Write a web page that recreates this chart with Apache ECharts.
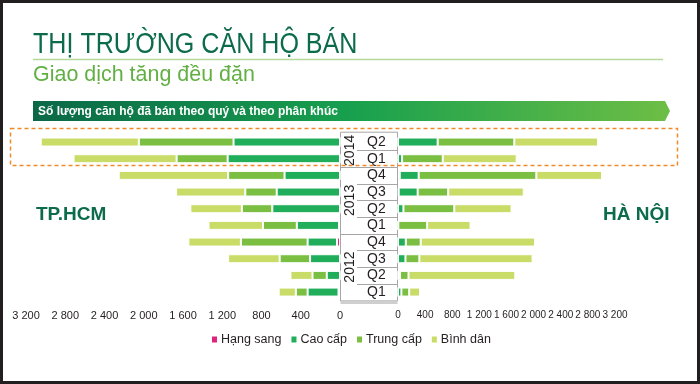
<!DOCTYPE html>
<html>
<head>
<meta charset="utf-8">
<script src="https://cdn.jsdelivr.net/npm/echarts@6/dist/echarts.min.js"></script>
<style>
html,body{margin:0;padding:0;background:#fff;}
#chart{width:700px;height:384px;}
</style>
</head>
<body>
<div id="chart"></div>
<script>
// ---- data (chronological: 2012 Q1 -> 2014 Q2; drawn bottom -> top) ----
var years    = ['2012','2012','2012','2012','2013','2013','2013','2013','2014','2014'];
var quarters = ['Q1','Q2','Q3','Q4','Q1','Q2','Q3','Q4','Q1','Q2'];
var segmentNames = ['Hạng sang','Cao cấp','Trung cấp','Bình dân'];
var tickValues = [0,400,800,1200,1600,2000,2400,2800,3200];

// TP.HCM
var hcmLux  = [15, 0, 0, 30, 10, 0, 0, 0, 0, 0];
var hcmHigh = [315, 135, 305, 300, 430, 690, 645, 565, 1145, 1085];
var hcmMid  = [120, 145, 310, 680, 345, 310, 320, 575, 520, 965];
var hcmAff  = [175, 225, 525, 535, 555, 525, 705, 1115, 1050, 1000];
// Hà Nội
var hnLux  = [0, 0, 0, 0, 0, 0, 10, 25, 0, 0];
var hnHigh = [50, 30, 110, 115, 5, 80, 280, 280, 60, 585];
var hnMid  = [115, 125, 205, 220, 425, 750, 450, 1735, 600, 1130];
var hnAff  = [160, 1575, 1670, 1685, 640, 845, 1115, 970, 1090, 1235];

var titleText = 'THỊ TRƯỜNG CĂN HỘ BÁN';
var subtitleText = 'Giao dịch tăng đều đặn';
var bannerText = 'Số lượng căn hộ đã bán theo quý và theo phân khúc';

var colors = ['#e2237e', '#21ae5b', '#7abf42', '#c9dc68'];
var SANS = '"Liberation Sans",Arial,sans-serif';
var DARKGREEN = '#0c6b4b';

var categories = years.map(function(y,i){ return y + ' ' + quarters[i]; });
function fmt(v){ return String(v).replace(/\B(?=(\d{3})+(?!\d))/g, ' '); }

var chart = echarts.init(document.getElementById('chart'), null, {renderer:'canvas'});

var gridTop = 133.7, gridH = 166.7;
function mkX(idx, inverse, fs){
  return {
    type:'value', gridIndex:idx, min:tickValues[0], max:tickValues[tickValues.length-1],
    interval:tickValues[1]-tickValues[0], inverse:inverse,
    axisLine:{show:false}, axisTick:{show:false}, splitLine:{show:false},
    axisLabel:{fontSize:fs, color:'#231f20', fontFamily:SANS, margin:10, hideOverlap:false,
      showMinLabel:true, showMaxLabel:true, formatter:fmt}
  };
}
function mkSeries(name, data, xi, stack, color){
  return {
    type:'bar', name:name, stack:stack, xAxisIndex:xi, yAxisIndex:xi,
    data:data, barWidth:9, itemStyle:{color:color, borderColor:'#fff', borderWidth:1},
    emphasis:{disabled:true}, animation:false
  };
}
var hcm = [hcmLux, hcmHigh, hcmMid, hcmAff];
var hn = [hnLux, hnHigh, hnMid, hnAff];
var series = [];
segmentNames.forEach(function(n,i){ series.push(mkSeries(n, hcm[i], 0, 'hcm', colors[i])); });
segmentNames.forEach(function(n,i){ series.push(mkSeries(n, hn[i], 1, 'hn', colors[i])); });

var option = {
  backgroundColor:'#ffffff',
  animation:false,
  color:colors,
  legend:{
    data:segmentNames, left:205, top:328, itemWidth:7, itemHeight:8, itemGap:8,
    icon:'rect', selectedMode:false,
    textStyle:{fontFamily:SANS, fontSize:12.5, color:'#231f20', padding:[0,0,0,-2]}
  },
  grid:[
    {left:26, width:314, top:gridTop, height:gridH},
    {left:398, width:217, top:gridTop, height:gridH}
  ],
  xAxis:[mkX(0,true,11), mkX(1,false,10)],
  yAxis:[
    {type:'category', gridIndex:0, data:categories, position:'right',
     axisLine:{show:false}, axisTick:{show:false},
     axisLabel:{interval:0, margin:27, fontSize:14, fontFamily:SANS, color:'#231f20',
       formatter:function(v){ return v.split(' ')[1]; }}},
    {type:'category', gridIndex:1, data:categories,
     axisLine:{show:false}, axisTick:{show:false}, axisLabel:{show:false}}
  ],
  series:series
};
chart.setOption(option);

// ---- decorations (positions derived from the axes where relevant) ----
function yPix(i){ return chart.convertToPixel({yAxisIndex:0}, i); }
var band = Math.abs(yPix(0) - yPix(1));
var boxL = 340.5, boxR = 397.5, boxTop = yPix(categories.length-1) - band/2 - 1.5;
var boxBot = yPix(0) + band/2 + 0.5;
var g = [];
// frame
g.push({type:'rect', shape:{x:0,y:0,width:700,height:384}, style:{fill:'none', stroke:'#231f20', lineWidth:6}, z:100});
// titles
g.push({type:'text', x:33, y:45, scaleX:0.865, style:{text:titleText, fill:DARKGREEN, fontFamily:SANS, fontSize:29, verticalAlign:'middle'}});
g.push({type:'text', x:33, y:75, scaleX:0.975, style:{text:subtitleText, fill:'#62b044', fontFamily:SANS, fontSize:22, verticalAlign:'middle'}});
// title underline
g.push({type:'line', shape:{x1:33,y1:59.5,x2:663,y2:59.5}, style:{stroke:'#b5d89b', lineWidth:1.5}});
// banner
g.push({type:'polygon', shape:{points:[[33,101],[665,101],[670,111],[665,121],[33,121]]},
  style:{fill:new echarts.graphic.LinearGradient(0,0,1,0,[
    {offset:0,color:'#0a6847'},{offset:0.5,color:'#18a04e'},{offset:1,color:'#6dbe45'}])}});
g.push({type:'text', x:38, y:111.5, style:{text:bannerText,
  fill:'#fff', fontFamily:SANS, fontSize:12, fontWeight:'bold', verticalAlign:'middle'}});
// highlight box
g.push({type:'rect', shape:{x:10.5,y:128.5,width:667,height:37},
  style:{fill:'none', stroke:'#f08a28', lineWidth:1.5, lineDash:[4,3]}, z:50});
// region names
g.push({type:'text', x:36, y:215, style:{text:'TP.HCM', fill:DARKGREEN, fontFamily:SANS, fontSize:19, fontWeight:'bold', verticalAlign:'middle'}});
g.push({type:'text', x:603, y:215, style:{text:'HÀ NỘI', fill:DARKGREEN, fontFamily:SANS, fontSize:19, fontWeight:'bold', verticalAlign:'middle'}});
// center box
g.push({type:'rect', shape:{x:boxL,y:boxTop,width:boxR-boxL,height:boxBot-boxTop}, style:{fill:'none', stroke:'#a6a6a6', lineWidth:1}});
g.push({type:'rect', shape:{x:boxL,y:boxBot,width:boxR-boxL,height:3}, style:{fill:'#cfcfcf'}});
for (var i=0;i<categories.length-1;i++){
  var yb = Math.round((yPix(i)+yPix(i+1))/2)+0.5;
  var full = years[i] !== years[i+1];
  g.push({type:'line', shape:{x1: full?boxL:357, y1:yb, x2:boxR, y2:yb}, style:{stroke:'#a6a6a6', lineWidth:1}});
}
// year labels
var groups = {};
years.forEach(function(y,i){ if(!groups[y]) groups[y]=[i,i]; groups[y][1]=i; });
Object.keys(groups).forEach(function(y){
  var yc = (yPix(groups[y][0]) + yPix(groups[y][1]))/2;
  g.push({type:'text', x:350, y:yc, rotation:Math.PI/2,
    style:{text:y, fill:'#231f20', fontFamily:SANS, fontSize:14, align:'center', verticalAlign:'middle'}});
});
chart.setOption({graphic:g});
</script>
</body>
</html>
